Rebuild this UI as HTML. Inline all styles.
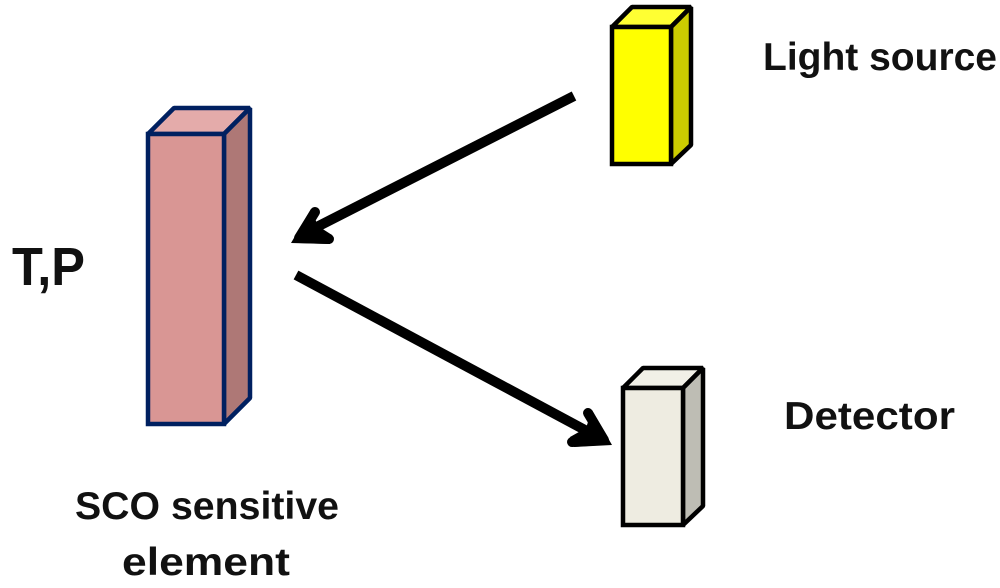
<!DOCTYPE html>
<html>
<head>
<meta charset="utf-8">
<style>
html,body{margin:0;padding:0;background:#fff;width:1000px;height:588px;overflow:hidden}
svg{display:block}
text{font-family:"Liberation Sans",sans-serif;font-weight:bold;fill:#111}
</style>
</head>
<body>
<svg width="1000" height="588" viewBox="0 0 1000 588" xmlns="http://www.w3.org/2000/svg">
<!-- Pink element -->
<g stroke="#002060" stroke-width="4.5" stroke-linejoin="bevel">
<polygon points="148,134 174,108 250,108 224,134" fill="#e4abaa"/>
<polygon points="224,134 250,108 250,398 224,424" fill="#ae7876"/>
<polygon points="148,134 224,134 224,424 148,424" fill="#d99694" stroke-linejoin="miter"/>
</g>
<!-- Yellow source -->
<g stroke="#000" stroke-width="4.5" stroke-linejoin="bevel">
<polygon points="612,27 632,7 691,7 671,27" fill="#ffff33"/>
<polygon points="671,27 691,7 691,145 671,164" fill="#cccc00"/>
<polygon points="612,27 671,27 671,164 612,164" fill="#ffff00" stroke-linejoin="miter"/>
</g>
<!-- Detector -->
<g stroke="#000" stroke-width="4.5" stroke-linejoin="bevel">
<polygon points="623,388 643,368 703,368 683,388" fill="#f1f0e7"/>
<polygon points="683,388 703,368 703,506 683,525" fill="#bebdb4"/>
<polygon points="623,388 683,388 683,525 623,525" fill="#eeece1" stroke-linejoin="miter"/>
</g>
<!-- Arrows -->
<g fill="none" stroke="#000" stroke-width="10">
<line x1="574" y1="96" x2="305" y2="233"/>
<line x1="296" y1="275" x2="598" y2="437"/>
</g>
<g fill="none" stroke="#000" stroke-width="10" stroke-linejoin="round" stroke-linecap="round">
<path d="M315,212 L299,238 L329,239"/>
<path d="M588,413 L604,440 L572,442"/>
</g>
<polygon points="291,243 311,209 318,226 332,235 330,244" fill="#000"/>
<polygon points="612,445 592,410 586,428 570,437 574,447" fill="#000"/>
<!-- Labels -->
<text x="763" y="70" font-size="39" textLength="234" lengthAdjust="spacingAndGlyphs">Light source</text>
<text x="12" y="285" font-size="54" textLength="73" lengthAdjust="spacingAndGlyphs">T,P</text>
<text x="784" y="429" font-size="39" textLength="171" lengthAdjust="spacingAndGlyphs">Detector</text>
<text x="75" y="519" font-size="39" textLength="264" lengthAdjust="spacingAndGlyphs">SCO sensitive</text>
<text x="122" y="575" font-size="39" textLength="168" lengthAdjust="spacingAndGlyphs">element</text>
</svg>
</body>
</html>
